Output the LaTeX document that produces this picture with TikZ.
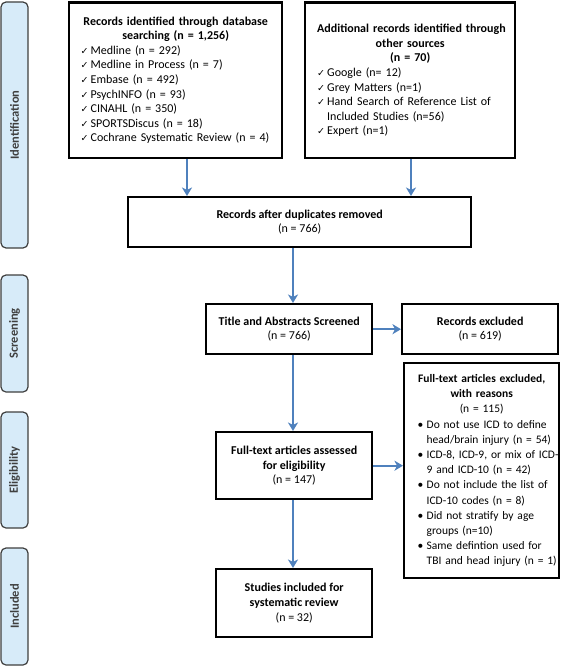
\documentclass[tikz,border=0pt]{standalone}
\usepackage{fontspec}
\setmainfont{Carlito}
\newfontfamily\symfont{DejaVu Sans}
\usetikzlibrary{arrows.meta}

\definecolor{arrowblue}{HTML}{4F81BD}
\definecolor{phasefill}{HTML}{D7EBF9}
\definecolor{phasetext}{HTML}{3F3F3F}

\newcommand{\chk}{\makebox[10pt][l]{\symfont\fontsize{9.5}{9}\selectfont ✓}}
\newcommand{\blt}{\hspace*{6pt}\makebox[9pt][l]{•}}
\newcommand{\hang}{\hspace*{10pt}}
\newcommand{\hangb}{\hspace*{15pt}}

\tikzset{
	box/.style = {draw, line width=2.4pt, inner sep=0pt, align=center,
		font=\fontsize{12}{14.6}\selectfont},
	phase/.style = {draw=phasetext, line width=1.2pt, fill=phasefill, rounded corners=5pt,
		rotate=90, minimum height=27pt, inner sep=0pt, text=phasetext,
		font=\bfseries\fontsize{12.5}{12}\selectfont},
	arr/.style = {arrowblue, line width=2.4pt, -{Stealth[length=8.5pt,width=10pt,inset=2.5pt]}}
}

\begin{document}
\begin{tikzpicture}[
			x = 1pt,
			y = -1pt
			]

			\useasboundingbox (0,0) rectangle (567,666);

			\node[phase, minimum width=246pt] (identification) at (14.5,125) {Identification};
			\node[phase, minimum width=117pt] (screening) at (14.5,333.5) {Screening};
			\node[phase, minimum width=116pt] (eligibility) at (14.5,470) {Eligibility};
			\node[phase, minimum width=117pt] (included) at (14.5,606.5) {Included};

			\node[box, anchor=north west, minimum width=213pt, minimum height=155pt,
				text width=190pt, align=left] (database) at (68,1.5) {%
				{\centering\bfseries \mbox{Records identified through database}\\ searching (n = 1,256)\par}
				\mbox{\chk Medline (n = 292)}\\
				\mbox{\chk Medline in Process (n = 7)}\\
				\mbox{\chk Embase (n = 492)}\\
				\mbox{\chk PsychINFO (n = 93)}\\
				\mbox{\chk CINAHL (n = 350)}\\
				\mbox{\chk SPORTSDiscus (n = 18)}\\
				\mbox{\chk Cochrane Systematic Review (n = 4)}\par\vspace{4pt}};

			\node[box, anchor=north west, minimum width=210pt, minimum height=155.5pt,
				text width=186pt, align=left] (other) at (304,1.5) {%
				{\centering\bfseries \mbox{Additional records identified through}\\ other sources\\ (n = 70)\par}
				\mbox{\chk Google (n= 12)}\\
				\mbox{\chk Grey Matters (n=1)}\\
				\mbox{\chk Hand Search of Reference List of}\\
				\mbox{\hang Included Studies (n=56)}\\
				\mbox{\chk Expert (n=1)}\par\vspace{40pt}};

			\node[box, anchor=north west, minimum width=343pt, minimum height=50pt] (duplicates) at (127,196)
				{\textbf{Records after duplicates removed}\\ (n = 766)};

			\node[box, anchor=north west, minimum width=166pt, minimum height=50pt] (screened) at (205,303)
				{\textbf{Title and Abstracts Screened}\\ (n = 766)};

			\node[box, anchor=north west, minimum width=156pt, minimum height=50pt] (excluded) at (401,303)
				{\textbf{Records excluded}\\ (n = 619)};

			\node[box, anchor=north west, minimum width=156pt, minimum height=67pt] (assessed) at (215,431)
				{\textbf{Full-text articles assessed}\\ \textbf{for eligibility}\\ (n = 147)};

			\node[box, anchor=north west, minimum width=155pt, minimum height=215pt,
				text width=140pt, align=left, font=\fontsize{11.5}{15.2}\selectfont] (reasons) at (403,362) {%
				{\centering\textbf{Full-text articles excluded,}\\ \textbf{with reasons}\\ (n = 115)\par}
				\mbox{\blt Do not use ICD to define}\\
				\mbox{\hangb head/brain injury (n = 54)}\\
				\mbox{\blt ICD-8, ICD-9, or mix of ICD-}\\
				\mbox{\hangb 9 and ICD-10 (n = 42)}\\
				\mbox{\blt Do not include the list of}\\
				\mbox{\hangb ICD-10 codes (n = 8)}\\
				\mbox{\blt Did not stratify by age}\\
				\mbox{\hangb groups (n=10)}\\
				\mbox{\blt Same defintion used for}\\
				\mbox{\hangb TBI and head injury (n = 1)}};

			\node[box, anchor=north west, minimum width=156pt, minimum height=68pt] (studies) at (215,568)
				{\textbf{Studies included for}\\ \textbf{systematic review}\\ (n = 32)};

			\coordinate (leftdrop) at (187,0);
			\coordinate (rightdrop) at (411,0);
			\coordinate (spine) at (293,0);

			\draw[arr] (database.south -| leftdrop) -- (duplicates.north -| leftdrop);
			\draw[arr] (other.south -| rightdrop) -- (duplicates.north -| rightdrop);
			\draw[arr] (duplicates.south -| spine) -- (screened.north -| spine);
			\draw[arr] (screened.south -| spine) -- (assessed.north -| spine);
			\draw[arr] (assessed.south -| spine) -- (studies.north -| spine);
			\draw[arr] (screened.east) -- (excluded.west);
			\draw[arr] (assessed.east) -- (assessed.east -| reasons.west);

		\end{tikzpicture}
\end{document}
